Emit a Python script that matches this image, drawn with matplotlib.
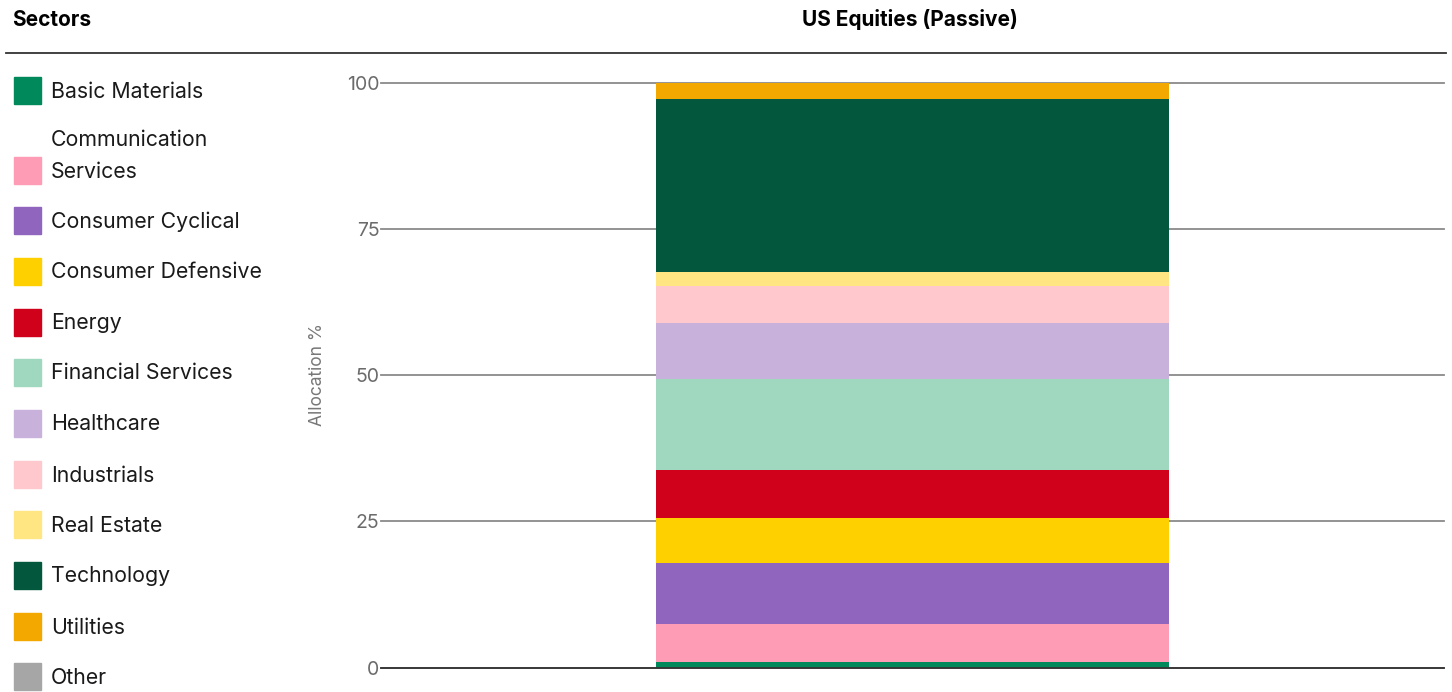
import matplotlib.pyplot as plt
from matplotlib.patches import Rectangle
from matplotlib.lines import Line2D

plt.rcParams['font.family'] = ['Inter', 'DejaVu Sans']

sectors = ["Basic Materials", "Communication\nServices", "Consumer Cyclical",
           "Consumer Defensive", "Energy", "Financial Services", "Healthcare",
           "Industrials", "Real Estate", "Technology", "Utilities", "Other"]
allocation = [1.03, 6.44, 10.43, 7.69, 8.2, 15.56, 9.57, 6.4, 2.34, 29.6, 2.74, 0.0]
colors = ["#00895A", "#FD9CB4", "#9065BD", "#FFD000", "#D0021B", "#9FD8BF",
          "#C8B2DC", "#FFC8CD", "#FFE683", "#02573D", "#F3A800", "#A6A6A6"]
series_name = "US Equities (Passive)"
yticks = [0, 25, 50, 75, 100]

W, H = 1452, 692
fig = plt.figure(figsize=(W / 100, H / 100), dpi=100)

def fx(px):
    return px / W

def fy(py):
    return 1 - py / H

# header
fig.text(fx(12), fy(20), "Sectors", fontsize=15, fontweight='bold', va='center', ha='left')
fig.text(fx(910), fy(20), series_name, fontsize=15, fontweight='bold', va='center', ha='center')
fig.add_artist(Line2D([fx(6), fx(1446)], [fy(53), fy(53)], color='#333333', lw=1.3))

# legend drawn by hand
row_y = [90, 170, 220, 271, 322, 372, 423, 474, 524, 575, 626, 676]
for name, col, yy in zip(sectors, colors, row_y):
    fig.add_artist(Rectangle((fx(14), fy(yy + 13.5)), fx(27), 27 / H, color=col,
                             transform=fig.transFigure))
    lines = name.split("\n")
    for k, line in enumerate(lines):
        ty = yy + 1.5 - 31 * (len(lines) - 1 - k)
        fig.text(fx(51), fy(ty), line, fontsize=15.3, va='center', ha='left', color='#1a1a1a')

# chart
ax = fig.add_axes([fx(381), fy(667.7), fx(1444) - fx(381), (667.7 - 82.7) / H])
bottom = 0
for val, col in zip(allocation, colors):
    ax.bar(0, val, bottom=bottom, width=0.483, color=col, zorder=3, linewidth=0)
    bottom += val

for t in yticks:
    ax.axhline(t, color='#8a8a8a', lw=1.3, zorder=1, clip_on=False)
ax.axhline(0, color='#333333', lw=1.3, zorder=4, clip_on=False)

ax.set_xlim(-0.5, 0.5)
ax.set_ylim(0, 100)
ax.set_yticks(yticks)
ax.set_xticks([])
ax.tick_params(axis='y', length=0, pad=1, labelsize=14, labelcolor='#6b6b6b')
for s in ax.spines.values():
    s.set_visible(False)

fig.text(fx(318), fy(375), "Allocation %", rotation=90, fontsize=12.5, color='#777777',
         va='center', ha='center')

fig.savefig("out.png", dpi=100)
